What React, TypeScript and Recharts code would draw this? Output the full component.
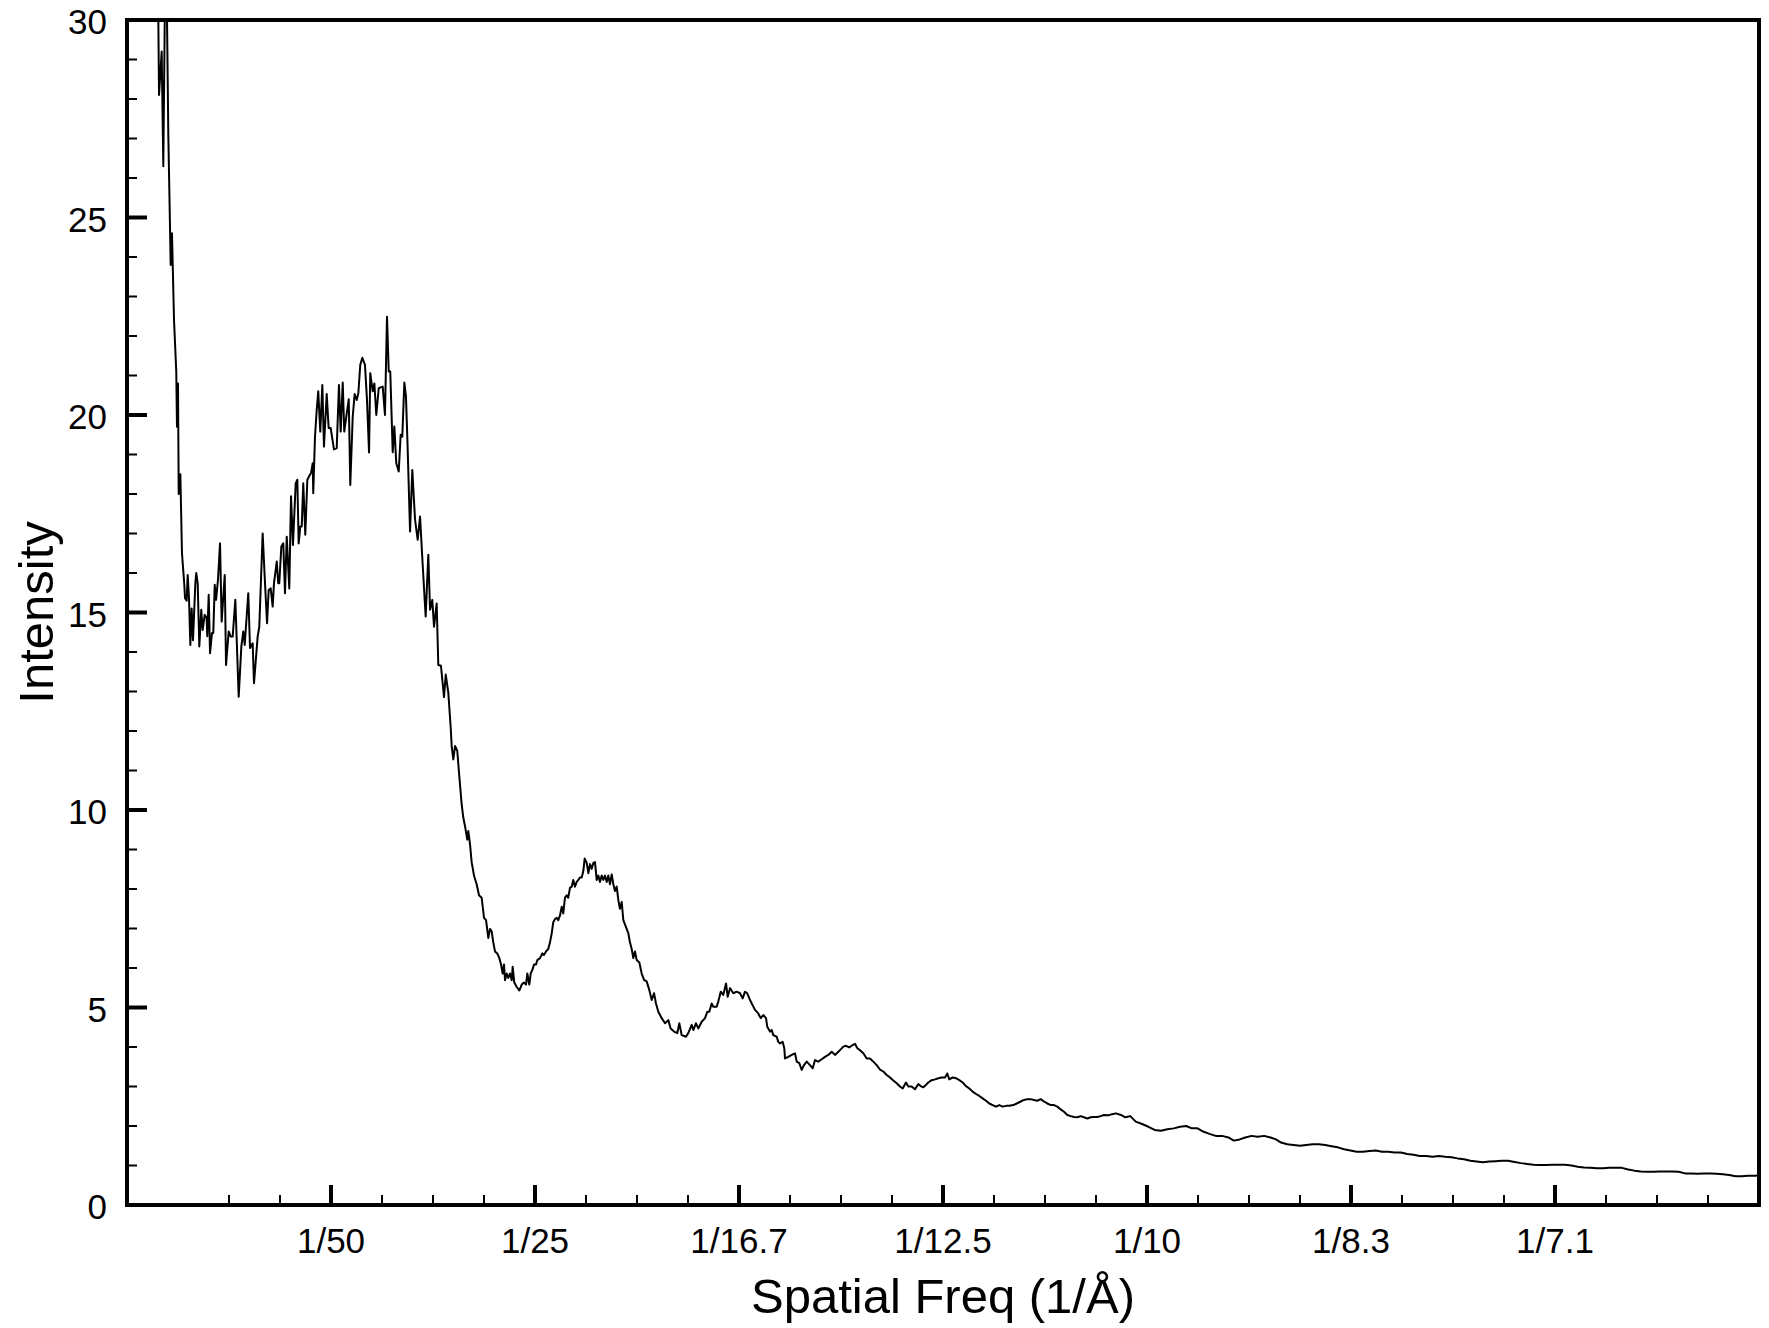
import React from 'react';
import { LineChart, Line, XAxis, YAxis, ReferenceArea } from 'recharts';

// spatial frequency in 1e-3 1/Å, intensity in arbitrary units
// low-resolution region: noisy start and the big hump
const lowFreq = [
  3.00, 3.14, 3.40, 3.56, 3.73, 3.89, 4.05, 4.22, 4.28, 4.41,
  4.61, 4.83, 4.90, 5.00, 5.07, 5.23, 5.39, 5.62, 5.69, 5.85,
  5.95, 6.08, 6.21, 6.34, 6.47, 6.70, 6.79, 6.93, 7.09, 7.28,
  7.42, 7.62, 7.81, 7.87, 8.01, 8.14, 8.33, 8.46, 8.60, 8.73,
  8.92, 9.12, 9.28, 9.58, 9.71, 9.97, 10.17, 10.36, 10.62, 10.95,
  11.21, 11.40, 11.54, 11.89, 12.06, 12.32, 12.45, 12.81, 12.97, 13.30,
  13.53, 13.73, 13.89, 14.09, 14.28, 14.41, 14.68, 14.83, 14.93, 15.13,
  15.32, 15.49, 15.66, 15.91, 16.08, 16.27, 16.54, 16.70, 16.83, 16.99,
  17.13, 17.28, 17.48, 17.68, 17.84, 18.04, 18.21, 18.26, 18.43, 18.60,
  18.75, 18.95, 19.15, 19.31, 19.58, 19.77, 19.97, 20.29, 20.56, 20.78,
  20.95, 21.15, 21.30, 21.50, 21.74, 21.89, 22.13, 22.32, 22.52, 22.68,
  22.87, 23.07, 23.33, 23.53, 23.73, 23.85, 24.09, 24.25, 24.44, 24.68,
  25.07, 25.29, 25.49, 25.66, 25.81, 26.05, 26.21, 26.40, 26.64, 26.83,
  26.99, 27.19, 27.35, 27.52, 27.75, 27.97, 28.24, 28.50, 28.73, 28.99,
  29.28, 29.54, 29.71, 29.93, 30.10, 30.36, 30.52, 30.78, 31.08, 31.25,
  31.50, 31.74, 31.83, 31.99, 32.16, 32.38, 32.55, 32.81, 32.97, 33.14,
];
const lowIntensity = [
  32.0, 28.1, 29.2, 26.3, 30.8, 30.8, 27.1, 24.7, 23.8, 24.6,
  22.4, 21.1, 19.7, 20.8, 18.0, 18.5, 16.5, 15.7, 15.36, 15.3,
  15.95, 15.36, 14.18, 15.1, 14.3, 15.74, 16.0, 15.74, 14.14, 15.07,
  14.56, 14.94, 14.86, 14.4, 15.45, 13.97, 14.48, 14.48, 15.7, 15.32,
  15.83, 16.75, 14.77, 15.95, 13.67, 14.52, 14.39, 14.39, 15.32, 12.87,
  14.14, 14.52, 14.18, 15.49, 14.1, 14.22, 13.21, 14.39, 14.64, 17.0,
  15.74, 14.73, 15.57, 15.61, 15.15, 15.74, 16.29, 15.74, 15.74, 16.67,
  16.75, 15.49, 16.92, 15.61, 17.94, 16.71, 18.27, 18.36, 16.75, 17.18,
  17.18, 18.27, 16.97, 18.36, 18.44, 18.53, 18.78, 18.02, 19.45, 20.13,
  20.6, 19.58, 20.76, 19.2, 20.53, 19.67, 19.67, 19.13, 19.16, 20.76,
  19.58, 20.82, 19.58, 19.96, 20.4, 18.23, 19.96, 20.53, 20.38, 20.55,
  21.27, 21.45, 21.27, 20.38, 19.05, 21.06, 20.6, 20.8, 20.0, 20.68,
  20.72, 20.0, 22.49, 21.1, 21.1, 19.06, 19.71, 18.78, 18.57, 19.5,
  19.45, 20.82, 20.47, 19.12, 17.05, 18.61, 17.35, 16.84, 17.43, 16.2,
  14.9, 16.46, 15.07, 15.32, 14.64, 15.23, 13.67, 13.65, 12.86, 13.43,
  12.97, 12.07, 11.62, 11.28, 11.62, 11.5, 10.94, 10.15, 9.81, 9.59,
];

// Thon-ring like oscillations
const midFreq = [
  33.36, 33.46, 33.63, 33.79, 34.02, 34.28, 34.51, 34.77, 35.00, 35.20,
  35.42, 35.59, 35.75, 35.91, 36.08, 36.30, 36.50, 36.67, 36.83, 36.96,
  37.06, 37.23, 37.38, 37.55, 37.72, 37.81, 37.97, 38.21, 38.46, 38.70,
  38.92, 39.12, 39.25, 39.44, 39.58, 39.77, 39.90, 40.10, 40.23, 40.49,
  40.72, 40.88, 41.08, 41.30, 41.47, 41.64, 41.79, 41.96, 42.13, 42.28,
  42.45, 42.62, 42.77, 42.94, 43.11, 43.26, 43.43, 43.60, 43.75, 43.92,
  44.09, 44.25, 44.41, 44.58, 44.74, 44.87, 45.07, 45.23, 45.39, 45.56,
  45.72, 45.88, 46.05, 46.21, 46.37, 46.54, 46.70, 46.86, 47.03, 47.19,
  47.35, 47.52, 47.68, 47.84, 48.01, 48.17, 48.33, 48.50, 48.66, 48.99,
  49.15, 49.31, 49.48, 49.64, 49.80, 49.97, 50.23, 50.46, 50.69, 50.95,
  51.21, 51.44, 51.67, 51.86, 52.09, 52.42, 52.75, 53.07, 53.30, 53.63,
  53.95, 54.15, 54.38, 54.80, 55.03, 55.36, 55.52, 55.78, 56.01, 56.34,
  56.67, 56.89, 57.09, 57.32, 57.48, 57.81, 57.97, 58.21, 58.46, 58.73,
  58.89, 59.12, 59.44, 59.77, 60.10, 60.36, 60.59, 60.81, 61.01, 61.25,
  61.57, 61.89, 62.13, 62.38, 62.65, 62.77, 63.04, 63.21, 63.36, 63.70,
  63.85, 64.02, 64.28, 64.44, 64.51, 64.83, 65.17, 65.49, 65.66, 65.91,
  66.15, 66.37, 66.64, 66.96, 67.23, 67.45, 67.77, 68.11, 68.43, 68.75,
  69.09, 69.41, 69.74, 69.97, 70.23, 70.49, 70.81, 71.15, 71.37, 71.60,
  71.86, 72.19, 72.52, 72.84, 73.17, 73.50, 73.82, 74.15, 74.48, 74.80,
  75.13, 75.46, 75.78, 76.05, 76.37, 76.60, 76.93, 77.25, 77.58, 77.81,
  78.07, 78.33, 78.56, 78.89, 79.22, 79.54, 79.87, 80.20, 80.42, 80.62,
  80.95, 81.27, 81.60, 81.93, 82.25, 82.58, 82.91, 83.24, 83.56, 83.89,
  84.22, 84.54, 84.87, 85.20, 85.52, 85.85, 86.18, 86.50, 86.89, 87.23,
  87.62, 87.94, 88.26, 88.60, 88.92, 89.25, 89.58, 89.90, 90.23, 90.56,
  90.88, 91.21, 91.54, 91.86, 92.19, 92.52, 92.84, 93.17, 93.50, 93.82,
  94.15, 94.48, 94.80, 95.13, 95.46, 95.78, 96.22,
];
const midIntensity = [
  9.25, 9.47, 9.13, 8.68, 8.34, 8.12, 7.84, 7.78, 7.27, 7.21,
  6.76, 6.99, 6.93, 6.65, 6.42, 6.37, 6.25, 6.09, 5.86, 6.09,
  5.69, 5.86, 5.75, 5.86, 5.69, 6.03, 5.63, 5.52, 5.43, 5.58,
  5.63, 5.58, 5.86, 5.58, 5.86, 5.97, 6.09, 6.09, 6.20, 6.25,
  6.37, 6.33, 6.42, 6.48, 6.65, 6.88, 7.16, 7.24, 7.27, 7.21,
  7.33, 7.55, 7.38, 7.78, 7.84, 7.78, 8.03, 8.06, 8.23, 8.06,
  8.18, 8.23, 8.29, 8.29, 8.46, 8.77, 8.66, 8.40, 8.63, 8.51,
  8.66, 8.68, 8.23, 8.34, 8.18, 8.34, 8.23, 8.34, 8.18, 8.34,
  8.12, 8.37, 8.12, 7.95, 8.06, 7.72, 7.50, 7.67, 7.21, 6.99,
  6.88, 6.65, 6.48, 6.25, 6.42, 6.20, 6.14, 5.86, 5.70, 5.66,
  5.44, 5.19, 5.36, 5.10, 4.89, 4.73, 4.60, 4.68, 4.47, 4.39,
  4.35, 4.60, 4.30, 4.26, 4.35, 4.56, 4.43, 4.60, 4.47, 4.64,
  4.73, 4.89, 4.89, 5.10, 5.02, 5.02, 5.15, 5.40, 5.32, 5.61,
  5.27, 5.49, 5.36, 5.40, 5.36, 5.23, 5.40, 5.36, 5.23, 5.10,
  4.94, 4.85, 4.73, 4.81, 4.73, 4.51, 4.39, 4.43, 4.30, 4.26,
  4.13, 4.09, 4.13, 3.97, 3.71, 3.75, 3.80, 3.84, 3.63, 3.59,
  3.42, 3.54, 3.63, 3.54, 3.46, 3.67, 3.63, 3.69, 3.75, 3.80,
  3.88, 3.80, 3.88, 3.94, 4.01, 4.03, 3.99, 4.05, 4.08, 3.97,
  3.92, 3.84, 3.71, 3.71, 3.63, 3.54, 3.43, 3.38, 3.29, 3.23,
  3.15, 3.08, 3.00, 2.95, 3.10, 3.00, 3.00, 2.93, 3.06, 3.01,
  2.98, 3.04, 3.10, 3.16, 3.18, 3.21, 3.23, 3.23, 3.33, 3.18,
  3.23, 3.21, 3.16, 3.10, 3.01, 2.95, 2.87, 2.81, 2.76, 2.70,
  2.64, 2.57, 2.53, 2.49, 2.53, 2.49, 2.51, 2.51, 2.53, 2.57,
  2.62, 2.66, 2.68, 2.68, 2.66, 2.64, 2.68, 2.62, 2.57, 2.53,
  2.53, 2.49, 2.42, 2.36, 2.28, 2.25, 2.23, 2.22, 2.25, 2.22,
  2.19, 2.22, 2.23, 2.23, 2.25, 2.28, 2.27,
];

// high-resolution tail
const tailFreq = [
  96.57, 96.96, 97.45, 97.87, 98.36, 98.90, 99.52, 100.14, 100.75, 101.37,
  101.99, 102.62, 103.24, 103.85, 104.39, 104.96, 105.50, 106.12, 106.74, 107.36,
  107.98, 108.51, 109.09, 109.63, 110.25, 110.86, 111.48, 112.11, 112.64, 113.14,
  113.75, 114.37, 114.99, 115.61, 116.23, 116.85, 117.47, 118.09, 118.71, 119.32,
  119.94, 120.56, 121.18, 121.80, 122.42, 123.04, 123.66, 124.27, 124.89, 125.51,
  126.13, 126.75, 127.37, 127.99, 128.61, 129.23, 129.84, 130.46, 131.09, 131.71,
  132.32, 132.94, 133.56, 134.18, 134.79, 135.41, 136.04, 136.66, 137.27, 137.89,
  138.51, 139.13, 139.75, 140.37, 140.99, 141.61, 142.23, 142.84, 143.46, 144.08,
  144.70, 145.32, 145.94, 146.56, 147.18, 147.79, 148.41, 149.03, 149.66, 150.27,
  150.89, 151.51, 152.13, 152.75, 153.36, 153.98, 154.61, 155.23, 155.84, 156.46,
  157.08, 157.70, 158.31, 158.93, 159.56, 160.00,
];
const tailIntensity = [
  2.30, 2.32, 2.28, 2.22, 2.25, 2.11, 2.05, 1.98, 1.90, 1.88,
  1.92, 1.94, 1.98, 2.00, 1.94, 1.94, 1.86, 1.80, 1.75, 1.75,
  1.71, 1.63, 1.66, 1.71, 1.75, 1.73, 1.75, 1.71, 1.66, 1.58,
  1.54, 1.52, 1.50, 1.52, 1.54, 1.54, 1.52, 1.49, 1.46, 1.41,
  1.38, 1.35, 1.35, 1.37, 1.38, 1.35, 1.35, 1.33, 1.33, 1.29,
  1.27, 1.24, 1.24, 1.22, 1.24, 1.22, 1.21, 1.18, 1.16, 1.12,
  1.10, 1.08, 1.10, 1.11, 1.12, 1.12, 1.09, 1.06, 1.04, 1.02,
  1.01, 1.01, 1.02, 1.02, 1.02, 1.00, 0.97, 0.95, 0.94, 0.93,
  0.93, 0.94, 0.94, 0.94, 0.90, 0.87, 0.85, 0.84, 0.84, 0.85,
  0.85, 0.85, 0.84, 0.80, 0.80, 0.79, 0.80, 0.80, 0.79, 0.78,
  0.76, 0.73, 0.73, 0.74, 0.74, 0.75,
];

const xMajorTicks = [20, 40, 60, 80, 100, 120, 140];
const xTickLabels = ['1/50', '1/25', '1/16.7', '1/12.5', '1/10', '1/8.3', '1/7.1'];
const xMinorTicks = [10, 15, 25, 30, 35, 45, 50, 55, 65, 70, 75, 85, 90, 95, 105, 110, 115, 125, 130, 135, 145, 150, 155];
const yTicks = [0, 1, 2, 3, 4, 5, 6, 7, 8, 9, 10, 11, 12, 13, 14, 15, 16, 17, 18, 19, 20, 21, 22, 23, 24, 25, 26, 27, 28, 29, 30];

const FONT = '"Liberation Sans", Arial, Helvetica, sans-serif';

const freq = [...lowFreq, ...midFreq, ...tailFreq];
const intensity = [...lowIntensity, ...midIntensity, ...tailIntensity];
const data = freq.map((f, i) => ({ f, v: intensity[i] }));
const xTicks = [...xMinorTicks, ...xMajorTicks].sort((a, b) => a - b);

// ticks point inward, labels sit outside
function XTick(props: any) {
  const { x, y, payload } = props;
  const i = xMajorTicks.indexOf(payload.value);
  const major = i >= 0;
  return (
    <g>
      <line x1={x} x2={x} y1={y} y2={y - (major ? 20 : 10)} stroke="#000" strokeWidth={major ? 4 : 2} />
      {major && (
        <text x={x} y={y + 48} textAnchor="middle" fontSize={35} fontFamily={FONT} fill="#000">
          {xTickLabels[i]}
        </text>
      )}
    </g>
  );
}

function YTick(props: any) {
  const { x, y, payload } = props;
  const major = payload.value % 5 === 0;
  return (
    <g>
      <line x1={x} x2={x + (major ? 20 : 10)} y1={y} y2={y} stroke="#000" strokeWidth={major ? 4 : 2} />
      {major && (
        <text x={x - 20} y={y + 14} textAnchor="end" fontSize={35} fontFamily={FONT} fill="#000">
          {payload.value}
        </text>
      )}
    </g>
  );
}

function XTitle(props: any) {
  const vb = props.viewBox || { x: 127, y: 1205, width: 1632, height: 123 };
  return (
    <text x={vb.x + vb.width / 2} y={vb.y + 108} textAnchor="middle" fontSize={49} fontFamily={FONT} fill="#000">
      Spatial Freq (1/Å)
    </text>
  );
}

function YTitle(props: any) {
  const vb = props.viewBox || { x: 0, y: 20, width: 127, height: 1185 };
  const cx = vb.x + 53;
  const cy = vb.y + vb.height / 2;
  return (
    <text transform={`translate(${cx},${cy}) rotate(-90)`} textAnchor="middle" fontSize={49} fontFamily={FONT} fill="#000">
      Intensity
    </text>
  );
}

export default function App() {
  return (
    <div style={{ position: 'absolute', left: 0, top: 0, width: 1769, height: 1328, background: '#fff' }}>
      <LineChart width={1769} height={1328} data={data} margin={{ top: 20, right: 10, bottom: 0, left: 0 }}>
        <XAxis
          dataKey="f"
          type="number"
          domain={[0, 160]}
          allowDataOverflow
          ticks={xTicks}
          interval={0}
          height={123}
          axisLine={false}
          tickLine={false}
          tickSize={0}
          tickMargin={0}
          tick={<XTick />}
          label={{ content: XTitle }}
        />
        <YAxis
          type="number"
          domain={[0, 30]}
          allowDataOverflow
          ticks={yTicks}
          interval={0}
          width={127}
          axisLine={false}
          tickLine={false}
          tickSize={0}
          tickMargin={0}
          tick={<YTick />}
          label={{ content: YTitle }}
        />
        <Line
          type="linear"
          dataKey="v"
          stroke="#000"
          strokeWidth={2}
          strokeLinejoin="round"
          dot={false}
          activeDot={false}
          isAnimationActive={false}
        />
        <ReferenceArea x1={0} x2={160} y1={0} y2={30} fill="none" stroke="#000" strokeWidth={4} />
      </LineChart>
    </div>
  );
}
